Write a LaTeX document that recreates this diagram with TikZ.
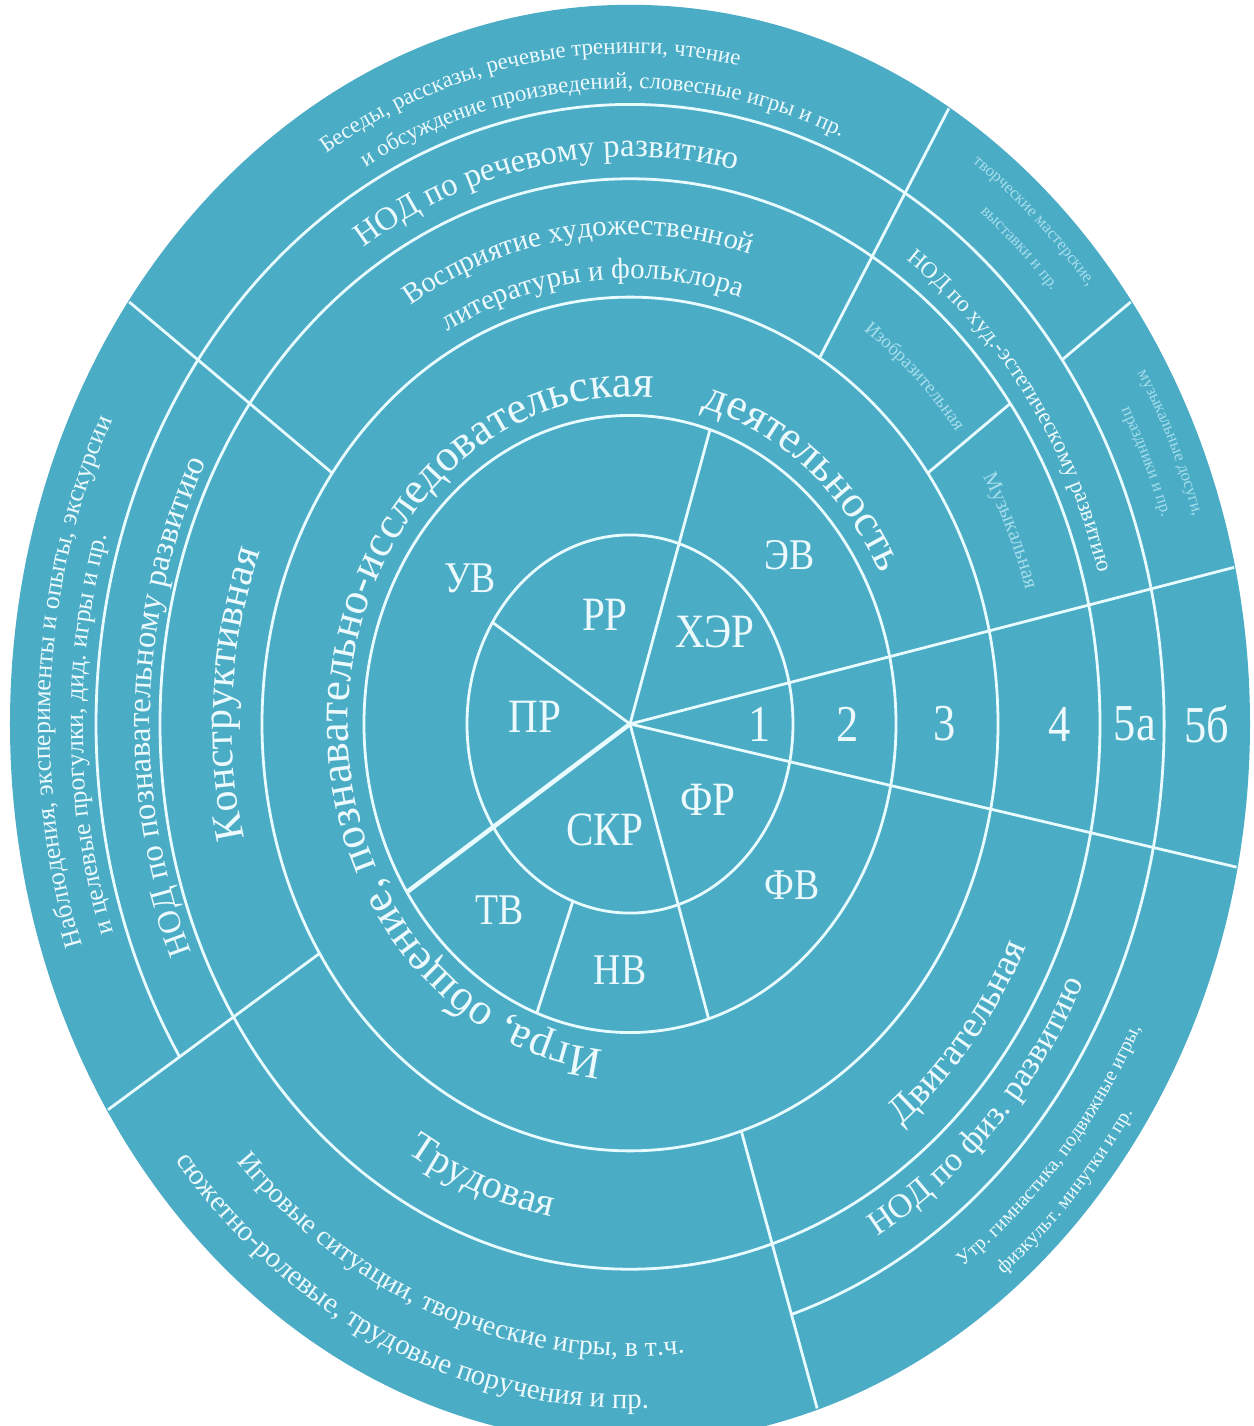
\documentclass[tikz,border=0pt]{standalone}
\usepackage{fontspec}
\setmainfont{Liberation Serif}
\newfontfamily\nf[FakeStretch=0.86]{Liberation Serif}
\usetikzlibrary{decorations.text}
\definecolor{aqua}{RGB}{75,172,198}
\definecolor{wline}{RGB}{232,251,255}
\definecolor{wtext}{RGB}{236,250,253}
\definecolor{ftext}{RGB}{165,222,236}
\def\ky{1.16}
% clockwise text: rho, centre angle, half span, size, colour, text
\newcommand\cwtext[6]{\pgfmathsetmacro\sa{#2+#3}\pgfmathsetmacro\ea{#2-#3}\pgfmathsetmacro\ry{\ky*#1}%
 \path[decorate,decoration={text along path,text align=center,text color=#5,
   text={|\fontsize{#4}{#4}\selectfont|#6}}]
   ({#1*cos(\sa)},{\ry*sin(\sa)}) arc[start angle=\sa,end angle=\ea,x radius=#1,y radius=\ry];}
% counter-clockwise text
\newcommand\ccwtext[6]{\pgfmathsetmacro\sa{#2-#3}\pgfmathsetmacro\ea{#2+#3}\pgfmathsetmacro\ry{\ky*#1}%
 \path[decorate,decoration={text along path,text align=center,text color=#5,
   text={|\fontsize{#4}{#4}\selectfont|#6}}]
   ({#1*cos(\sa)},{\ry*sin(\sa)}) arc[start angle=\sa,end angle=\ea,x radius=#1,y radius=\ry];}
% radial line: angle, from rho, to rho
\newcommand\radial[4][]{\draw[ring,#1] ({#3*cos(#2)},{\ky*#3*sin(#2)}) -- ({#4*cos(#2)},{\ky*#4*sin(#2)});}
\tikzset{
 ring/.style={draw=wline,line width=2.8},
 lab/.style={text=wtext,inner sep=0,font=\nf\fontsize{44}{44}\selectfont},
 labin/.style={text=wtext,inner sep=0,font=\nf\fontsize{48}{48}\selectfont},
 num/.style={text=wtext,inner sep=0,font=\nf\fontsize{52}{52}\selectfont}
}
\begin{document}
\begin{tikzpicture}[x=1bp,y=1bp]
\clip (-630,-702) rectangle (623,724);
\fill[white] (-630,-702) rectangle (623,724);
\fill[aqua] (0,0) ellipse[x radius=620,y radius=\ky*620];
% rings
\draw[ring] (0,0) ellipse[x radius=163,y radius=\ky*163];
\draw[ring] (0,0) ellipse[x radius=266,y radius=\ky*266];
\draw[ring] (0,0) ellipse[x radius=368,y radius=\ky*368];
\draw[ring] (0,0) ellipse[x radius=470,y radius=\ky*470];
\draw[ring] ({534*cos(-72.4)},{\ky*534*sin(-72.4)}) arc[start angle=-72.4,end angle=212.5,x radius=534,y radius=\ky*534];
% radial lines
\radial{72.5}{0}{266}
\radial{147.5}{0}{163}
\radial[line width=4.5]{-147}{0}{266}
\radial{-72.8}{0}{266}
\radial{-110.5}{163}{266}
\radial{12.6}{0}{619}
\radial{-11.5}{0}{619}
\radial{144}{368}{619}
\radial{59}{368}{619}
\radial{36}{368}{470}
\radial{36}{534}{619}
\radial{-147.5}{368}{619}
\radial{-72.4}{368}{619}
% inner labels
\node[labin] (rr) at (-25,109) {РР};
\node[labin] (her) at (85,92) {ХЭР};
\node[labin] (pr) at (-95,7) {ПР};
\node[labin] (skr) at (-25,-106) {СКР};
\node[labin] (fr) at (78,-76) {ФР};
\node[lab] (uv) at (-160,146) {УВ};
\node[lab] (ev) at (160,169) {ЭВ};
\node[lab] (fv) at (162,-161) {ФВ};
\node[lab] (nv) at (-10,-246) {НВ};
\node[lab] (tv) at (-130,-186) {ТВ};
\node[num] (n1) at (130,0) {1};
\node[num] (n2) at (218,0) {2};
\node[num] (n3) at (315,0) {3};
\node[num] (n4) at (430,0) {4};
\node[num] (n5a) at (505,0) {5а};
\node[num] (n5b) at (577,0) {5б};
% curved texts
\cwtext{282}{175}{100}{45}{wtext}{Игра, общение, познавательно-исследовательская}
\cwtext{282}{52}{35}{45}{wtext}{деятельность}
\cwtext{398}{176}{40}{42}{wtext}{Конструктивная}
\ccwtext{432}{-110}{35}{40}{wtext}{Трудовая}
\ccwtext{440}{-40}{35}{38}{wtext}{Двигательная}
\cwtext{422}{97}{45}{29}{wtext}{Восприятие художественной}
\cwtext{384}{95.5}{45}{29}{wtext}{литературы и фольклора}
\cwtext{489}{99.7}{45}{33}{wtext}{НОД по речевому развитию}
\cwtext{578}{100}{40}{23}{wtext}{Беседы, рассказы, речевые тренинги, чтение}
\cwtext{548}{93}{40}{23}{wtext}{и обсуждение произведений, словесные игры и пр.}
\cwtext{480}{178}{45}{33}{wtext}{НОД по познавательному развитию}
\cwtext{580}{176}{45}{26}{wtext}{Наблюдения, эксперименты и опыты, экскурсии}
\cwtext{547}{181}{45}{26}{wtext}{и целевые прогулки, дид. игры и пр.}
\cwtext{486}{36}{30}{23}{wtext}{НОД по худ.-эстетическому развитию}
\cwtext{593}{47.5}{20}{17}{ftext}{творческие мастерские,}
\cwtext{563}{47}{20}{17}{ftext}{выставки и пр.}
\cwtext{591}{24.5}{20}{17}{ftext}{музыкальные досуги,}
\cwtext{561}{24}{20}{17}{ftext}{праздники и пр.}
\cwtext{412}{47}{20}{19}{ftext}{Изобразительная}
\cwtext{412}{24}{20}{21}{ftext}{Музыкальная}
\ccwtext{506}{-44.5}{35}{34}{wtext}{НОД по физ. развитию}
\ccwtext{574}{-42}{35}{20}{wtext}{Утр. гимнастика, подвижные игры,}
\ccwtext{604}{-44}{35}{20}{wtext}{физкульт. минутки и пр.}
\ccwtext{545}{-109.6}{40}{28}{wtext}{Игровые ситуации, творческие игры, в т.ч.}
\ccwtext{590}{-113.6}{40}{29}{wtext}{сюжетно-ролевые, трудовые поручения и пр.}
\end{tikzpicture}
\end{document}
